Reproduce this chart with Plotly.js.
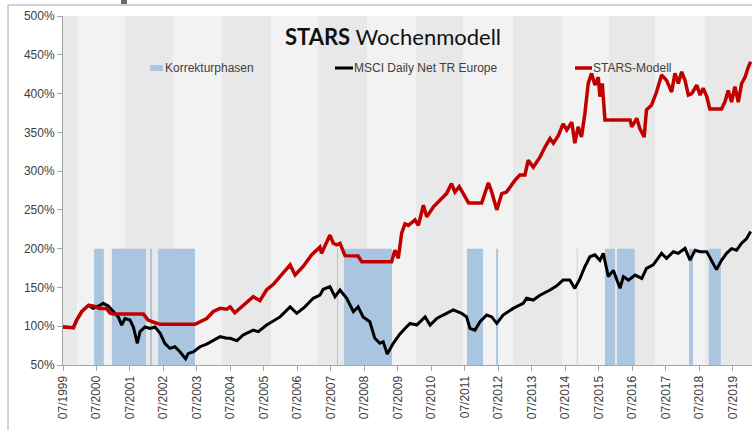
<!DOCTYPE html>
<html>
<head>
<meta charset="utf-8">
<script src="https://cdn.plot.ly/plotly-3.0.1.min.js"></script>
<style>
  html, body { margin: 0; padding: 0; background: #fff; }
  #plot { width: 752px; height: 430px; }
</style>
</head>
<body>
<div id="plot"></div>
<script>
// STARS-Modell (Jahr als Dezimalzahl, Wert in %)
const starsYears = [1999.50, 1999.81, 1999.91, 2000.06, 2000.26, 2000.40, 2000.60, 2000.80, 2000.90, 2000.99,
    2001.90, 2002.04, 2002.25, 2002.40, 2003.44, 2003.59, 2003.79, 2003.99, 2004.19, 2004.39,
    2004.49, 2004.63, 2004.88, 2005.18, 2005.38, 2005.58, 2005.78, 2005.98, 2006.28, 2006.43,
    2006.67, 2006.92, 2007.17, 2007.22, 2007.47, 2007.57, 2007.67, 2007.77, 2007.92, 2008.31,
    2008.42, 2009.31, 2009.41, 2009.51, 2009.61, 2009.71, 2009.81, 2010.01, 2010.11, 2010.26,
    2010.36, 2010.56, 2010.75, 2010.95, 2011.10, 2011.20, 2011.33, 2011.50, 2011.61, 2012.00,
    2012.20, 2012.30, 2012.45, 2012.60, 2012.74, 2012.99, 2013.14, 2013.29, 2013.39, 2013.54,
    2013.74, 2013.89, 2014.04, 2014.14, 2014.29, 2014.43, 2014.54, 2014.69, 2014.78, 2014.88,
    2014.98, 2015.08, 2015.18, 2015.28, 2015.38, 2015.48, 2015.53, 2015.60, 2015.68, 2016.43,
    2016.48, 2016.63, 2016.72, 2016.85, 2016.92, 2017.07, 2017.22, 2017.37, 2017.52, 2017.67,
    2017.77, 2017.87, 2017.97, 2018.07, 2018.17, 2018.27, 2018.42, 2018.52, 2018.61, 2018.72,
    2018.81, 2019.16, 2019.26, 2019.36, 2019.46, 2019.56, 2019.66, 2019.76, 2019.86, 2019.96,
    2020.03];
const starsValues = [99, 98, 108, 119, 127, 126, 123, 123, 117, 115.7,
    115.7, 108, 104.5, 102.4, 102.4, 106, 110, 119, 123, 122,
    125, 117.4, 127, 138, 133, 147, 154, 164, 179, 166,
    177, 192, 202, 194, 217.5, 207, 205, 207, 191, 190.5,
    183, 183, 198, 187.5, 220, 232, 230, 237, 230, 256,
    241, 254, 263, 271, 284, 273, 280, 267, 259, 259,
    285, 273, 250, 271, 273, 288, 295, 295, 314, 305,
    318, 331, 342, 336, 346, 361, 353, 363, 336, 357,
    344, 374, 413, 426, 411, 421, 396, 413, 366, 366,
    357, 368, 355, 344, 379, 385, 402, 424, 417, 402,
    426, 413, 428, 417, 398, 400, 411, 398, 407, 396,
    380, 380, 389, 404, 389, 409, 389, 413, 421, 434,
    441];

// MSCI Daily Net TR Europe
const msciYears = [1999.50, 1999.81, 1999.91, 2000.06, 2000.26, 2000.40, 2000.60, 2000.70, 2000.85, 2001.00,
    2001.15, 2001.25, 2001.35, 2001.50, 2001.60, 2001.72, 2001.80, 2001.95, 2002.10, 2002.25,
    2002.40, 2002.54, 2002.69, 2002.84, 2002.99, 2003.16, 2003.24, 2003.39, 2003.59, 2003.79,
    2003.99, 2004.19, 2004.39, 2004.49, 2004.69, 2004.88, 2005.18, 2005.33, 2005.58, 2005.78,
    2005.98, 2006.28, 2006.48, 2006.72, 2006.97, 2007.17, 2007.27, 2007.47, 2007.62, 2007.77,
    2007.97, 2008.17, 2008.31, 2008.46, 2008.66, 2008.81, 2008.96, 2009.06, 2009.18, 2009.36,
    2009.56, 2009.71, 2009.86, 2010.06, 2010.31, 2010.46, 2010.66, 2010.85, 2011.15, 2011.40,
    2011.55, 2011.65, 2011.80, 2011.95, 2012.15, 2012.30, 2012.45, 2012.64, 2012.94, 2013.24,
    2013.34, 2013.54, 2013.74, 2014.04, 2014.24, 2014.43, 2014.63, 2014.78, 2014.93, 2015.08,
    2015.23, 2015.38, 2015.53, 2015.63, 2015.78, 2015.93, 2016.13, 2016.23, 2016.38, 2016.58,
    2016.78, 2016.92, 2017.12, 2017.37, 2017.52, 2017.72, 2017.87, 2018.07, 2018.22, 2018.37,
    2018.52, 2018.72, 2018.86, 2019.01, 2019.16, 2019.31, 2019.46, 2019.61, 2019.76, 2019.91,
    2020.03];
const msciValues = [99, 98, 108, 119, 127, 123, 127, 129.5, 126, 119,
    112, 101.5, 110, 108, 99, 78, 93, 99, 97, 99,
    91, 78, 71.5, 73.6, 67, 58, 65, 67, 73.6, 77,
    82, 86.5, 84.4, 84.4, 81.3, 88.7, 95, 93, 101.5, 107,
    112, 125, 116.6, 125, 136, 140, 147.6, 151, 138, 146.7,
    136, 118.7, 125, 112, 105.8, 84.4, 78, 80, 64, 78,
    90, 97, 103.7, 101.5, 112, 101.5, 110, 114.4, 121, 116.6,
    112, 97.3, 95, 105.8, 114.4, 112, 103.7, 114.4, 123, 129.5,
    136, 133.8, 140, 146.7, 152, 159.5, 159.5, 148.8, 161, 176.7,
    189.6, 192, 185, 194, 164, 172, 149, 164, 159.5, 166,
    161.7, 174.6, 179, 194, 187.5, 196, 194, 200.4, 185.3, 198,
    196, 196, 185, 173, 185, 194, 200, 198, 207, 213,
    222];

// Korrekturphasen (Beginn / Ende)
const phaseStart = [2000.43, 2000.96, 2002.10, 2002.34, 2007.68, 2007.89, 2011.56, 2012.43, 2014.84, 2015.68, 2016.04, 2018.19, 2018.78];
const phaseEnd   = [2000.72, 2001.98, 2002.16, 2003.44, 2007.71, 2009.32, 2012.04, 2012.49, 2014.86, 2015.98, 2016.57, 2018.31, 2019.14];
const phaseLevel = 200;

// Hintergrundstreifen
const bandEdges = [1999.50, 1999.92, 2001.35, 2002.78, 2004.25, 2005.71, 2007.11, 2008.57, 2010.04,
    2011.44, 2012.93, 2014.40, 2015.80, 2017.17, 2018.66, 2020.07];

// Achsen
const tickYears = [1999.5, 2000.5, 2001.5, 2002.5, 2003.5, 2004.5, 2005.5, 2006.5, 2007.5, 2008.5,
    2009.5, 2010.5, 2011.5, 2012.5, 2013.5, 2014.5, 2015.5, 2016.5, 2017.5, 2018.5, 2019.5];
const tickLabels = ['07/1999', '07/2000', '07/2001', '07/2002', '07/2003', '07/2004', '07/2005', '07/2006',
    '07/2007', '07/2008', '07/2009', '07/2010', '07/2011', '07/2012', '07/2013', '07/2014', '07/2015',
    '07/2016', '07/2017', '07/2018', '07/2019'];

const seriesNames = ['Korrekturphasen', 'MSCI Daily Net TR Europe', 'STARS-Modell'];

const W = 752, H = 430;
const M = { l: 63, r: 0, t: 16, b: 65 };
const plotW = W - M.l - M.r, plotH = H - M.t - M.b;
// Pixel -> paper
const px = x => (x - M.l) / plotW;
const py = y => (H - M.b - y) / plotH;

const FONT = 'Liberation Sans, Arial, sans-serif';
const BLUE = '#a9c5df';
const RED = '#c00000';

const shapes = [];

// Streifen
for (let i = 0; i < bandEdges.length - 1; i++) {
    shapes.push({
        type: 'rect', layer: 'below', xref: 'x', yref: 'paper',
        x0: bandEdges[i], x1: bandEdges[i + 1], y0: 0, y1: 1,
        fillcolor: i % 2 === 0 ? '#e8e8e8' : '#f2f2f2', line: { width: 0 }
    });
}

// Korrekturphasen
phaseStart.forEach((s, i) => {
    shapes.push({
        type: 'rect', layer: 'below', xref: 'x', yref: 'y',
        x0: s, x1: phaseEnd[i], y0: 0, y1: phaseLevel,
        fillcolor: BLUE, line: { width: 0 }
    });
});

// Rahmen
shapes.push({ type: 'line', xref: 'paper', yref: 'paper', x0: px(8), x1: px(760), y0: py(5), y1: py(5),
    line: { color: '#a6a6a6', width: 1 } });
shapes.push({ type: 'line', xref: 'paper', yref: 'paper', x0: px(8), x1: px(8), y0: py(5), y1: py(440),
    line: { color: '#a6a6a6', width: 1 } });
shapes.push({ type: 'rect', xref: 'paper', yref: 'paper', x0: px(121), x1: px(127), y0: py(0), y1: py(4),
    fillcolor: '#7a6757', line: { width: 0 } });

// Legende
const legY = 68;
shapes.push({ type: 'rect', xref: 'paper', yref: 'paper', x0: px(150), x1: px(163), y0: py(legY + 3), y1: py(legY - 3),
    fillcolor: BLUE, line: { width: 0 } });
shapes.push({ type: 'line', xref: 'paper', yref: 'paper', x0: px(335), x1: px(353), y0: py(legY), y1: py(legY),
    line: { color: '#000', width: 3 } });
shapes.push({ type: 'line', xref: 'paper', yref: 'paper', x0: px(575), x1: px(592), y0: py(legY), y1: py(legY),
    line: { color: RED, width: 3.5 } });

const legX = [163, 352, 591];
const annotations = seriesNames.map((n, i) => ({
    xref: 'paper', yref: 'paper', x: px(legX[i]), y: py(legY),
    xanchor: 'left', yanchor: 'middle', showarrow: false, text: n,
    font: { family: FONT, size: 12, color: '#404040' }
}));

const traces = [
    {
        type: 'scatter', mode: 'lines', name: seriesNames[1],
        x: msciYears, y: msciValues,
        line: { color: '#000000', width: 3 },
        showlegend: false, hoverinfo: 'x+y'
    },
    {
        type: 'scatter', mode: 'lines', name: seriesNames[2],
        x: starsYears, y: starsValues,
        line: { color: RED, width: 3.5 },
        showlegend: false, hoverinfo: 'x+y'
    }
];

const layout = {
    width: W, height: H,
    margin: M,
    paper_bgcolor: '#ffffff',
    plot_bgcolor: '#f2f2f2',
    title: {
        text: '<b>STARS</b> Wochenmodell',
        x: 393 / W, xanchor: 'center', xref: 'container',
        y: 1 - 37 / H, yanchor: 'middle', yref: 'container',
        font: { family: 'Lato, sans-serif', size: 22, color: '#111' }
    },
    xaxis: {
        range: [bandEdges[0], bandEdges[bandEdges.length - 1]],
        tickmode: 'array', tickvals: tickYears, ticktext: tickLabels,
        tickangle: -90, ticks: 'outside', ticklen: 5, tickcolor: '#a6a6a6',
        showline: true, linecolor: '#a6a6a6', linewidth: 1,
        showgrid: false, zeroline: false,
        tickfont: { family: FONT, size: 12, color: '#404040' }
    },
    yaxis: {
        range: [50, 500], dtick: 50, tick0: 0, ticksuffix: '%',
        ticks: 'outside', ticklen: 5, tickcolor: '#a6a6a6',
        showline: true, linecolor: '#a6a6a6', linewidth: 1,
        showgrid: false, zeroline: false,
        tickfont: { family: FONT, size: 12, color: '#404040' }
    },
    shapes, annotations,
    showlegend: false
};

Plotly.newPlot('plot', traces, layout, { displayModeBar: false, staticPlot: true });
</script>
</body>
</html>
